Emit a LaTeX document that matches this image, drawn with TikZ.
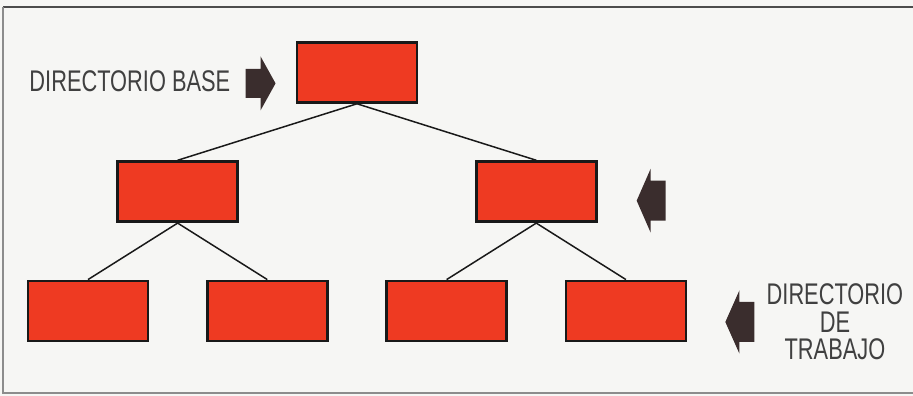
\documentclass[tikz,border=0pt]{standalone}
\usepackage{fontspec}
\usepackage{xcolor}
\usepackage{tikz}
\usetikzlibrary{positioning, calc}

\newfontfamily\lblfont[FakeStretch=0.73]{Liberation Sans}
\definecolor{boxred}{HTML}{EE3A22}
\definecolor{arrowdark}{HTML}{3A2D2D}
\definecolor{paper}{HTML}{F6F6F4}

\begin{document}
\begin{tikzpicture}[
  node distance=1.13cm and 1.13cm,
  dirbox/.style={rectangle, draw=black!90, line width=1.6pt, fill=boxred, minimum width=2.4cm, minimum height=1.2cm, inner sep=0pt},
  pointer/.style={fill=arrowdark},
  label/.style={font=\lblfont\fontsize{17}{15.6}\selectfont, text=black!75, inner sep=0pt, align=center},
  link/.style={line width=0.85pt, draw=black!90}
]

% Frame and paper
\useasboundingbox (0,0) rectangle (18.26,7.92);
\fill[paper] (0,0) rectangle (18.26,7.92);
\draw[black!70, line width=1.1pt] (18.26,7.78) -- (0.06,7.78);
\draw[black!45, line width=0.6pt] (0.06,7.78) -- (0.06,0.06) -- (18.26,0.06);

% Bottom row of directories
\node[dirbox] (leafa) at (1.76,1.70) {};
\node[dirbox, right=of leafa] (leafb) {};
\node[dirbox, right=of leafb] (leafc) {};
\node[dirbox, right=of leafc] (leafd) {};

% Middle row, centred over their children
\coordinate (mida) at ($(leafa.north)!0.5!(leafb.north)$);
\coordinate (midb) at ($(leafc.north)!0.5!(leafd.north)$);
\node[dirbox, above=of mida] (subleft) {};
\node[dirbox, above=of midb] (subright) {};

% Base directory
\coordinate (midtop) at ($(subleft.north)!0.5!(subright.north)$);
\node[dirbox, above=of midtop] (base) {};

% Tree links
\draw[link] (base.south) -- (subleft.north);
\draw[link] (base.south) -- (subright.north);
\draw[link] (subleft.south) -- (leafa.north);
\draw[link] (subleft.south) -- (leafb.north);
\draw[link] (subright.south) -- (leafc.north);
\draw[link] (subright.south) -- (leafd.north);

% Pointer tips
\coordinate[left=0.4cm of base.west, yshift=-0.22cm] (basetip);
\coordinate[right=0.78cm of subright.east, yshift=-0.18cm] (subtip);
\coordinate[right=0.76cm of leafd.east, yshift=-0.22cm] (worktip);

% Block pointers
\fill[pointer] (basetip) -- ++(-0.3,0.54) -- ++(0,-0.25) -- ++(-0.3,0) -- ++(0,-0.58) -- ++(0.3,0) -- ++(0,-0.25) -- cycle;
\fill[pointer] (subtip) -- ++(0.28,0.64) -- ++(0,-0.24) -- ++(0.3,0) -- ++(0,-0.8) -- ++(-0.3,0) -- ++(0,-0.24) -- cycle;
\fill[pointer] (worktip) -- ++(0.28,0.63) -- ++(0,-0.23) -- ++(0.3,0) -- ++(0,-0.8) -- ++(-0.3,0) -- ++(0,-0.23) -- cycle;

% Labels
\node[label, anchor=east] (basetext) at ([xshift=-0.9cm, yshift=0.04cm]basetip) {DIRECTORIO BASE};
\node[label, anchor=west] (worktext) at ([xshift=0.82cm]worktip) {DIRECTORIO\\DE\\TRABAJO};

\end{tikzpicture}
\end{document}
